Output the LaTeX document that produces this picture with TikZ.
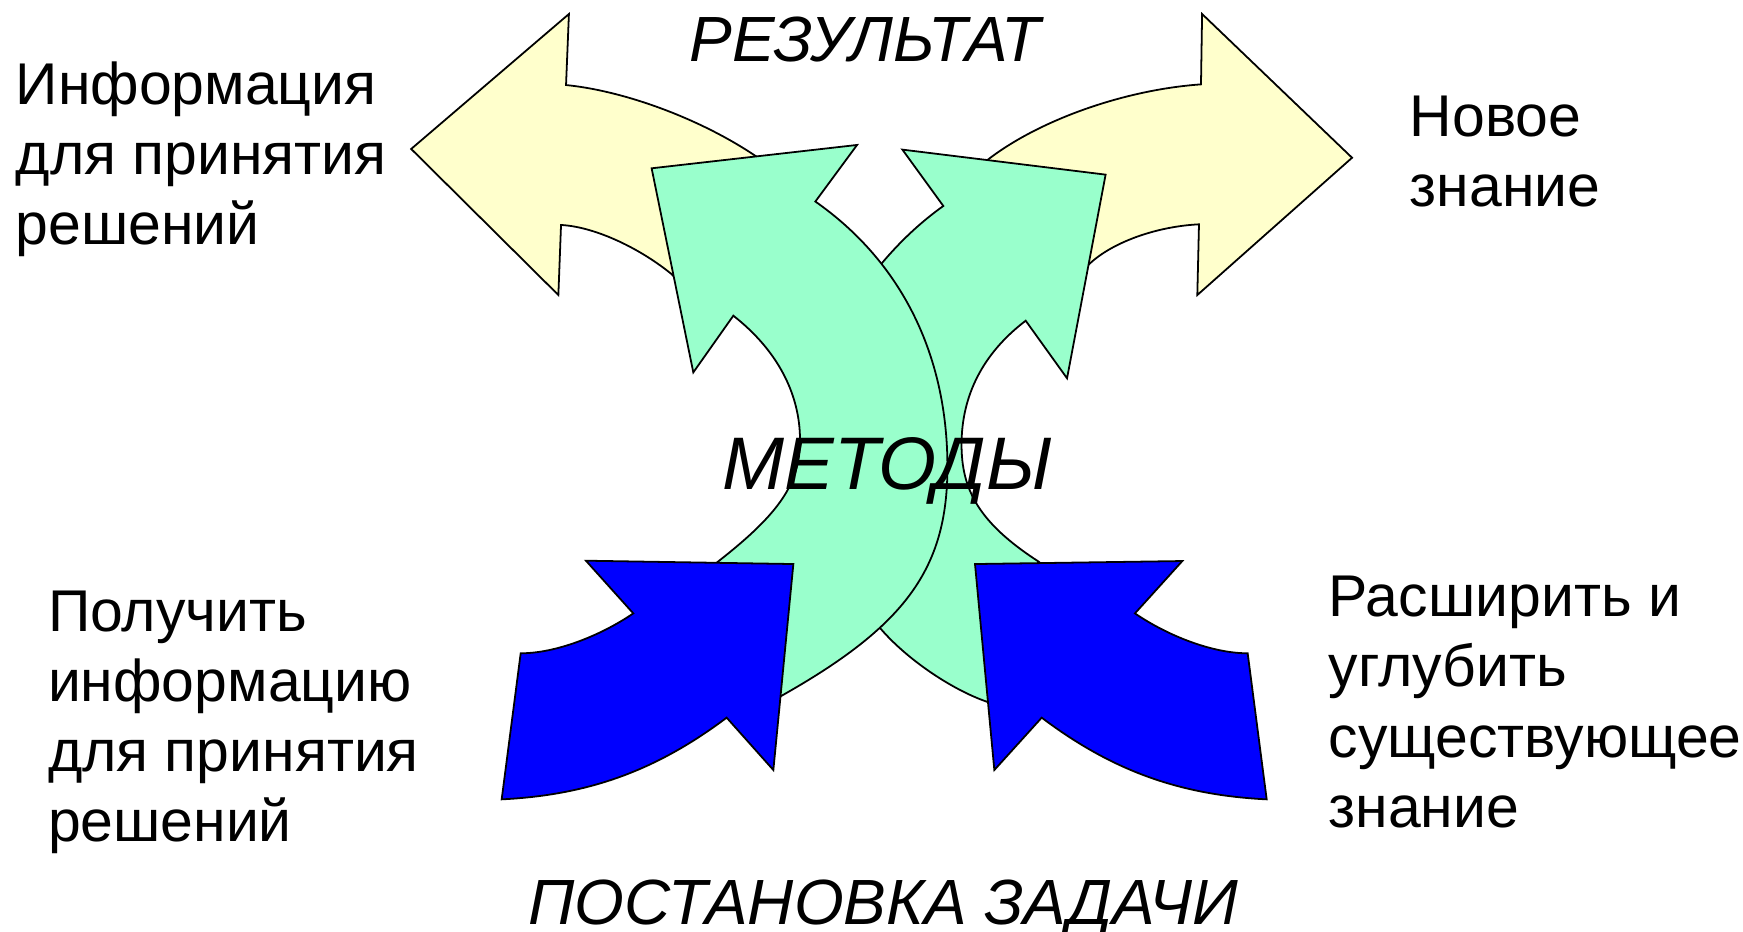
\documentclass[tikz,border=0pt]{standalone}
\usepackage{fontspec}
\setmainfont{Liberation Sans}
\definecolor{ylw}{HTML}{FFFFCC}
\definecolor{grn}{HTML}{99FFCC}
\definecolor{blu}{HTML}{0000FF}
\tikzset{
  outl/.style={draw=black, line width=1.6pt, line join=miter, miter limit=20},
  yarrow/.style={outl, fill=ylw},
  garrow/.style={outl, fill=grn},
  barrow/.style={outl, fill=blu},
  bodytxt/.style={anchor=base west, inner sep=0pt, font=\fontsize{53}{63}\selectfont},
  headtxt/.style={anchor=base west, inner sep=0pt, font=\fontsize{57.5}{68}\selectfont\itshape},
  midtxt/.style={anchor=base west, inner sep=0pt, font=\fontsize{67}{78}\selectfont\itshape},
}
\begin{document}
\begin{tikzpicture}[x=1pt,y=-1pt]
\useasboundingbox (0,0) rectangle (1568,838);
% yellow left arrow
\path[yarrow] (511.8,12.6) -- (509.2,76.5)
  .. controls (563.1,81.9) and (631.7,107.7) .. (680.7,141)
  -- (725,171) -- (620,262) -- (603.3,245.9)
  .. controls (572.5,221.2) and (533,203.8) .. (504.7,202.4)
  -- (502.3,265.4) -- (369.9,134) -- cycle;
% yellow right arrow
\path[yarrow] (1081.4,12.6) -- (1080.4,75.9)
  .. controls (1011.9,80.7) and (935.4,107.7) .. (889.1,143.3)
  -- (862,164) -- (966,250) -- (980.6,236.9)
  .. controls (1001.2,217.8) and (1040.4,203.7) .. (1078.6,201.8)
  -- (1077.1,265.4) -- (1216.3,141.9) -- cycle;
% green right arrow (behind)
\path[garrow] (811.8,134.6) -- (994.6,157.1) -- (959.9,340.3) -- (922.7,288.5)
  .. controls (884,318) and (865,356) .. (865,400)
  .. controls (865,440) and (880,470) .. (934,505)
  -- (945,514) -- (905,640) -- (887.6,631.2)
  .. controls (858,621) and (818,595) .. (793.2,566.7)
  .. controls (760,530) and (745,460) .. (745,400)
  .. controls (745,320) and (765,270) .. (793.2,236.9)
  .. controls (810,217) and (828,200) .. (848.6,185.3)
  -- cycle;
% green left arrow (front)
\path[garrow] (586.2,151.4) -- (771,130.4) -- (733.5,181.3)
  .. controls (810.7,235.4) and (852.3,318.9) .. (852.3,420)
  .. controls (852.3,511.5) and (814.7,563.2) .. (701.7,626.7)
  -- (680,638) -- (635,514) -- (647.7,503.8)
  .. controls (701.7,461.3) and (719.7,434.4) .. (719.7,396)
  .. controls (719.7,353.7) and (698.7,314.5) .. (659.7,284)
  -- (623.7,335) -- cycle;
% blue left arrow
\path[barrow] (527.1,504.4) -- (713.7,507.4) -- (695.7,692.7) -- (653.7,645.6)
  .. controls (590.3,693.2) and (529.6,715.2) .. (451.3,719.1)
  -- (468.4,587.7)
  .. controls (500,587.7) and (540,572) .. (569.7,551.8)
  -- cycle;
% blue right arrow
\path[barrow] (1063.6,504.7) -- (877.1,507.4) -- (894.5,692.7) -- (937.1,645.6)
  .. controls (1000.3,693.2) and (1061,715.2) .. (1139.5,719.1)
  -- (1122.4,587.7)
  .. controls (1090.6,587.7) and (1050.6,572) .. (1021,551.8)
  -- cycle;
% texts
\node[headtxt] (res) at (620,55) {РЕЗУЛЬТАТ};
\node[midtxt] (met) at (650,440) {МЕТОДЫ};
\node[headtxt] (pos) at (475,832) {ПОСТАНОВКА ЗАДАЧИ};
\node[bodytxt] (il1) at (14,94) {Информация};
\node[bodytxt] (il2) at (14,157) {для принятия};
\node[bodytxt] (il3) at (14,220) {решений};
\node[bodytxt] (nz1) at (1268,123) {Новое};
\node[bodytxt] (nz2) at (1268,186) {знание};
\node[bodytxt] (pl1) at (43,568) {Получить};
\node[bodytxt] (pl2) at (43,631) {информацию};
\node[bodytxt] (pl3) at (43,694) {для принятия};
\node[bodytxt] (pl4) at (43,757) {решений};
\node[bodytxt] (rs1) at (1195,555) {Расширить и};
\node[bodytxt] (rs2) at (1195,618) {углубить};
\node[bodytxt] (rs3) at (1195,681) {существующее};
\node[bodytxt] (rs4) at (1195,744) {знание};
\end{tikzpicture}
\end{document}
